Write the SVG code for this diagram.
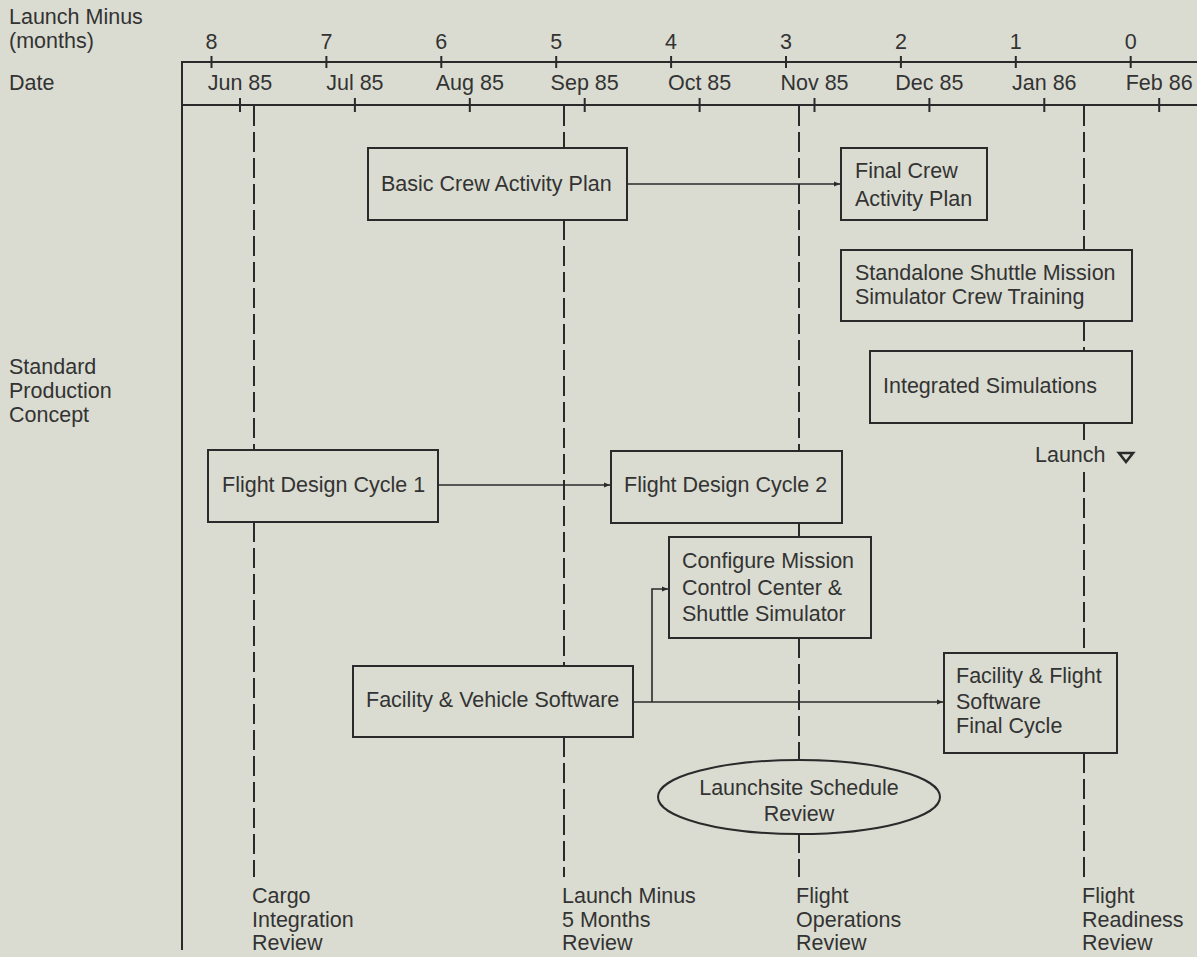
<svg xmlns="http://www.w3.org/2000/svg" width="1197" height="957" viewBox="0 0 1197 957">
<defs>
<style>
text{font-family:"Liberation Sans",Arial,Helvetica,sans-serif;font-size:21.5px;fill:#333}
.ax{stroke:#2a2a2a;stroke-width:2;fill:none}
.tk{stroke:#2a2a2a;stroke-width:2}
.box{fill:none;stroke:#2a2a2a;stroke-width:2}
.dash{stroke:#2a2a2a;stroke-width:2;stroke-dasharray:20 6;fill:none}
.con{stroke:#2a2a2a;stroke-width:1.6;fill:none}
.c{text-anchor:middle}
</style>
<marker id="ah" viewBox="0 0 10 10" refX="10" refY="5" markerWidth="7" markerHeight="6" markerUnits="userSpaceOnUse" orient="auto">
<path d="M0,1 L10,5 L0,9 Z" fill="#2a2a2a"/>
</marker>
</defs>
<rect width="1197" height="957" fill="#dadcd1"/>

<g id="header">
<text x="9" y="24">Launch Minus</text>
<text x="9" y="48">(months)</text>
<text x="9" y="90">Date</text>
<path class="ax" d="M1197,62 H182 V950 M182,105 H1197"/>
<g class="tk">
<path d="M211.5,56 V68 M326.4,56 V68 M441.3,56 V68 M556.2,56 V68 M671.1,56 V68 M786,56 V68 M900.9,56 V68 M1015.8,56 V68 M1130.7,56 V68"/>
<path d="M240,98 V112 M354.9,98 V112 M469.8,98 V112 M584.7,98 V112 M699.6,98 V112 M814.5,98 V112 M929.4,98 V112 M1044.3,98 V112 M1159.2,98 V112"/>
</g>
<g class="c">
<text x="211.5" y="49">8</text>
<text x="326.4" y="49">7</text>
<text x="441.3" y="49">6</text>
<text x="556.2" y="49">5</text>
<text x="671.1" y="49">4</text>
<text x="786" y="49">3</text>
<text x="900.9" y="49">2</text>
<text x="1015.8" y="49">1</text>
<text x="1130.7" y="49">0</text>
<text x="240" y="90">Jun 85</text>
<text x="354.9" y="90">Jul 85</text>
<text x="469.8" y="90">Aug 85</text>
<text x="584.7" y="90">Sep 85</text>
<text x="699.6" y="90">Oct 85</text>
<text x="814.5" y="90">Nov 85</text>
<text x="929.4" y="90">Dec 85</text>
<text x="1044.3" y="90">Jan 86</text>
<text x="1159.2" y="90">Feb 86</text>
</g>
<text x="9" y="374">Standard</text>
<text x="9" y="398">Production</text>
<text x="9" y="422">Concept</text>
</g>

<g id="milestones">
<path class="dash" d="M254,106 V450 M254,522 V877"/>
<path class="dash" d="M564,106 V148 M564,220 V666 M564,737 V877"/>
<path class="dash" d="M799,106 V450 M799,523 V537 M799,638 V760 M799,833 V877"/>
<path class="dash" d="M1084,106 V250 M1084,321 V351 M1084,423 V440 M1084,472 V653 M1084,753 V877"/>
<text x="252" y="903">Cargo</text>
<text x="252" y="927">Integration</text>
<text x="252" y="950">Review</text>
<text x="562" y="903">Launch Minus</text>
<text x="562" y="927">5 Months</text>
<text x="562" y="950">Review</text>
<text x="796" y="903">Flight</text>
<text x="796" y="927">Operations</text>
<text x="796" y="950">Review</text>
<text x="1082" y="903">Flight</text>
<text x="1082" y="927">Readiness</text>
<text x="1082" y="950">Review</text>
</g>

<g id="basic-crew">
<rect class="box" x="368" y="148" width="259" height="72"/>
<text x="381" y="191">Basic Crew Activity Plan</text>
</g>
<g id="final-crew">
<rect class="box" x="841" y="148" width="146" height="72"/>
<text x="855" y="178">Final Crew</text>
<text x="855" y="206">Activity Plan</text>
</g>
<g id="standalone">
<rect class="box" x="841" y="250" width="291" height="71"/>
<text x="855" y="280">Standalone Shuttle Mission</text>
<text x="855" y="304">Simulator Crew Training</text>
</g>
<g id="integrated">
<rect class="box" x="870" y="351" width="262" height="72"/>
<text x="883" y="393">Integrated Simulations</text>
</g>
<g id="launch">
<text x="1035" y="462">Launch</text>
<polygon points="1119,453 1133,453 1126,462" fill="none" stroke="#2a2a2a" stroke-width="2.6" stroke-linejoin="miter"/>
</g>
<g id="fdc1">
<rect class="box" x="208" y="450" width="230" height="72"/>
<text x="222" y="492">Flight Design Cycle 1</text>
</g>
<g id="fdc2">
<rect class="box" x="611" y="451" width="231" height="72"/>
<text x="624" y="492">Flight Design Cycle 2</text>
</g>
<g id="configure">
<rect class="box" x="669" y="537" width="202" height="101"/>
<text x="682" y="568">Configure Mission</text>
<text x="682" y="595">Control Center &amp;</text>
<text x="682" y="621">Shuttle Simulator</text>
</g>
<g id="facility-vehicle">
<rect class="box" x="353" y="666" width="280" height="71"/>
<text x="366" y="707">Facility &amp; Vehicle Software</text>
</g>
<g id="facility-flight">
<rect class="box" x="944" y="653" width="173" height="100"/>
<text x="956" y="683">Facility &amp; Flight</text>
<text x="956" y="709">Software</text>
<text x="956" y="733">Final Cycle</text>
</g>
<g id="launchsite">
<ellipse class="box" cx="799" cy="797" rx="141" ry="37"/>
<text class="c" x="799" y="795">Launchsite Schedule</text>
<text class="c" x="799" y="821">Review</text>
</g>

<g id="connectors">
<path class="con" d="M627,184 H840" marker-end="url(#ah)"/>
<path class="con" d="M438,485 H610" marker-end="url(#ah)"/>
<path class="con" d="M633,702 H943" marker-end="url(#ah)"/>
<path class="con" d="M652,702 V589 H668" marker-end="url(#ah)"/>
</g>
</svg>
